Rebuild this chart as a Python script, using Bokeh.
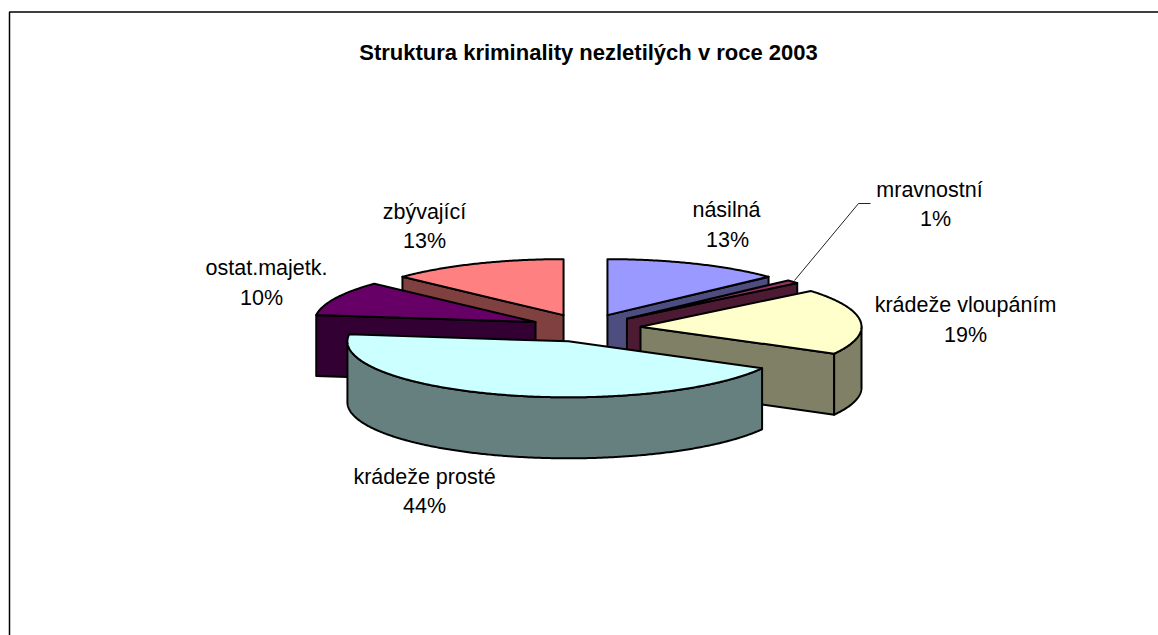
import math
from bokeh.plotting import figure
from bokeh.models import Range1d
from bokeh.core.properties import value
from bokeh.embed import file_html
from bokeh.resources import INLINE

# data
categories = ["násilná", "mravnostní", "krádeže vloupáním", "krádeže prosté", "ostat.majetk.", "zbývající"]
shares = [13, 1, 19, 44, 10, 13]
title_text = "Struktura kriminality nezletilých v roce 2003"

# style
top_colors = ["#9999FF", "#993366", "#FFFFCC", "#CCFFFF", "#660066", "#FF8080"]
side_colors = ["#4D4D80", "#4D1A33", "#808066", "#668080", "#330033", "#804040"]
paint_order = [5, 0, 4, 1, 2, 3]
label_pos = [(726, 209), (929, 189), (965, 304), (424, 476), (266, 267), (424, 211)]
pct_pos = [(727, 239), (935, 218), (965, 334), (424, 505), (261, 297), (424, 240)]

CX, CY, A, B, DEPTH, EXPLODE = 585, 327.5, 221, 56, 61, 0.25
W, H = 1158, 635

p = figure(width=W, height=H, output_backend="svg", toolbar_location=None,
           x_range=Range1d(0, W), y_range=Range1d(H, 0), min_border=0,
           outline_line_color=None, background_fill_color="white")
p.xaxis.visible = False
p.yaxis.visible = False
p.grid.visible = False

# chart frame
p.line([9, 9, W], [H, 11.5, 11.5], line_color="#000000", line_width=1.5)


def pt(cx, cy, deg, dz=0):
    r = math.radians(deg)
    return cx + A * math.sin(r), cy - B * math.cos(r) + dz


def arc(cx, cy, a0, a1, dz=0):
    n = max(2, int(abs(a1 - a0) * 2) + 1)
    return [pt(cx, cy, a0 + (a1 - a0) * i / (n - 1), dz) for i in range(n)]


def poly(points, color):
    p.patch([q[0] for q in points], [q[1] for q in points], fill_color=color,
            line_color="black", line_width=2, line_join="round")


total = sum(shares)
starts = []
acc = 0
for v in shares:
    starts.append(acc / total * 360)
    acc += v

for i in paint_order:
    a0 = starts[i]
    a1 = a0 + shares[i] / total * 360
    mid = math.radians((a0 + a1) / 2)
    cx = CX + EXPLODE * A * math.sin(mid)
    cy = CY - EXPLODE * B * math.cos(mid)
    top, side = top_colors[i], side_colors[i]
    apex = (cx, cy)
    apex_d = (cx, cy + DEPTH)
    if 180 < a0 < 360:
        t = pt(cx, cy, a0)
        poly([apex, t, (t[0], t[1] + DEPTH), apex_d], side)
    if 0 < a1 < 180:
        t = pt(cx, cy, a1)
        poly([apex, t, (t[0], t[1] + DEPTH), apex_d], side)
    r0, r1 = max(a0, 90), min(a1, 270)
    if r0 < r1:
        poly(arc(cx, cy, r0, r1) + arc(cx, cy, r1, r0, DEPTH), side)
    poly([apex] + arc(cx, cy, a0, a1), top)

# leader for the small slice
p.line([794, 858, 870], [280, 203, 203], line_color="#222222", line_width=1)

font = value("Liberation Sans")
p.text([588], [52], text=[title_text], text_font=font, text_font_size="22px",
       text_font_style="bold", text_align="center", text_baseline="middle", text_color="black")
p.text([q[0] for q in label_pos], [q[1] for q in label_pos], text=categories, text_font=font,
       text_font_size="21.5px", text_align="center", text_baseline="middle", text_color="black")
p.text([q[0] for q in pct_pos], [q[1] for q in pct_pos], text=[f"{v}%" for v in shares], text_font=font,
       text_font_size="21.5px", text_align="center", text_baseline="middle", text_color="black")

open("out.html", "w").write(file_html(p, INLINE))
